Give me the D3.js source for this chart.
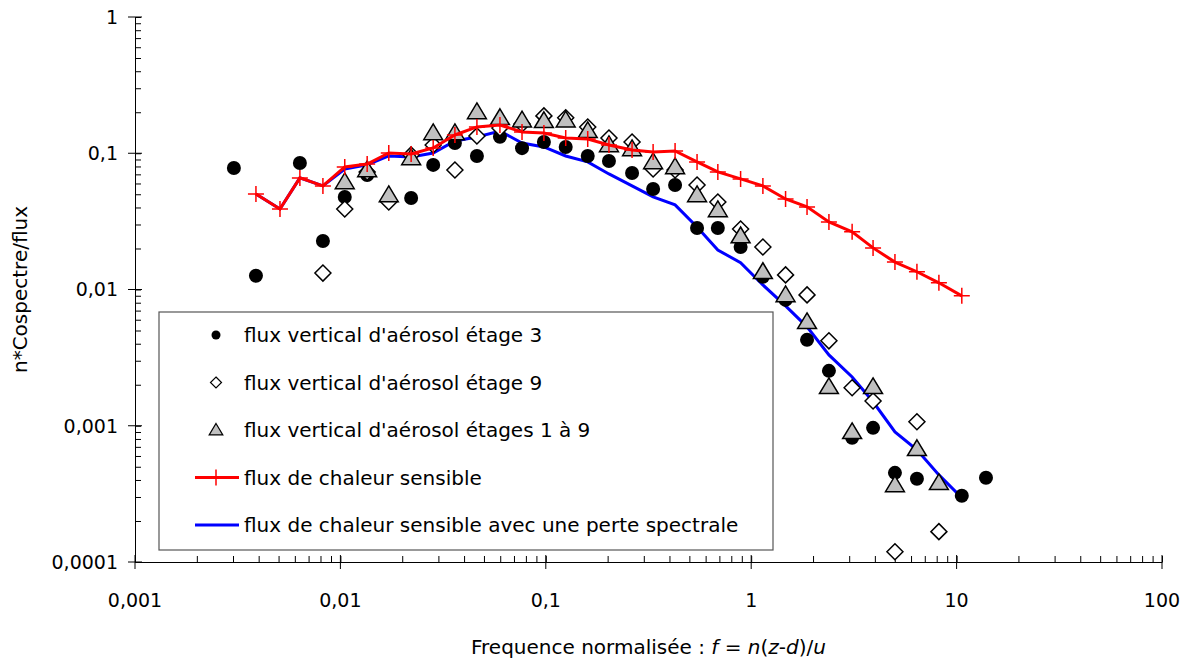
<!DOCTYPE html>
<html>
<head>
<meta charset="utf-8">
<script src="https://cdn.jsdelivr.net/npm/d3@7"></script>
<style>
  body { margin: 0; background: #fff; }
  text { font-family: "DejaVu Sans", sans-serif; fill: #000; }
</style>
</head>
<body>
<div class="chart"></div>
<script>
var svgWidth = 1191;
var svgHeight = 659;

// heat flux curves (red / blue) share the same frequencies
var freqLine = [0.00388, 0.00508, 0.00635, 0.00822, 0.0105, 0.0135, 0.0172, 0.0221, 0.0283, 0.0361,
  0.0462, 0.0598, 0.0766, 0.0979, 0.125, 0.160, 0.203, 0.263, 0.333, 0.426,
  0.545, 0.688, 0.888, 1.14, 1.47, 1.87, 2.39, 3.10, 3.92, 5.01,
  6.41, 8.20, 10.6];
var heatSensible = [0.0503, 0.0390, 0.0659, 0.0576, 0.0793, 0.0834, 0.1005, 0.0988, 0.1094, 0.1362,
  0.156, 0.1613, 0.1433, 0.1409, 0.1295, 0.1273, 0.115, 0.1057, 0.1022, 0.1039,
  0.0864, 0.0729, 0.0648, 0.0576, 0.0462, 0.0404, 0.0313, 0.0265, 0.0202, 0.0159,
  0.0135, 0.0112, 0.00898];
var heatLoss = [0.0503, 0.0390, 0.0659, 0.0576, 0.0767, 0.0821, 0.0955, 0.0939, 0.1005, 0.1231,
  0.1317, 0.1457, 0.1190, 0.1112, 0.0955, 0.0864, 0.0705, 0.0576, 0.0478, 0.0418,
  0.0288, 0.0195, 0.0157, 0.0108, 0.00758, 0.00532, 0.00331, 0.00228, 0.00150, 0.000902,
  0.000666, 0.000436, 0.000296];

// aerosol flux, stage 3 (black dots)
var freqStage3 = [0.00303, 0.00388, 0.00635, 0.00822, 0.0105, 0.0135, 0.0221, 0.0283, 0.0361, 0.0462,
  0.0598, 0.0766, 0.0979, 0.125, 0.160, 0.203, 0.263, 0.333, 0.426, 0.545,
  0.688, 0.888, 1.14, 1.47, 1.87, 2.39, 3.10, 3.92, 5.01, 6.41,
  10.6, 13.9];
var stage3 = [0.0780, 0.0126, 0.0849, 0.0227, 0.0478, 0.0693, 0.0470, 0.0821, 0.119, 0.0955,
  0.132, 0.109, 0.121, 0.111, 0.0955, 0.0878, 0.0717, 0.0547, 0.0585, 0.0283,
  0.0283, 0.0205, 0.0124, 0.00839, 0.00427, 0.00253, 0.000815, 0.000965, 0.000451, 0.000408,
  0.000306, 0.000415];

// aerosol flux, stage 9 (diamonds)
var freqStage9 = [0.00822, 0.0105, 0.0135, 0.0172, 0.0221, 0.0283, 0.0361, 0.0462, 0.0598, 0.0766,
  0.0979, 0.125, 0.160, 0.203, 0.263, 0.333, 0.426, 0.545, 0.688, 0.888,
  1.14, 1.47, 1.87, 2.39, 3.10, 3.92, 5.01, 6.41, 8.20];
var stage9 = [0.0132, 0.0390, 0.0729, 0.0439, 0.0972, 0.115, 0.0754, 0.134, 0.153, 0.164,
  0.188, 0.182, 0.156, 0.1295, 0.121, 0.0767, 0.0754, 0.0585, 0.0439, 0.0278,
  0.0205, 0.0128, 0.00913, 0.00420, 0.00190, 0.00152, 0.000119, 0.00107, 0.000167];

// aerosol flux, stages 1 to 9 (grey triangles)
var freqStages = [0.0105, 0.0135, 0.0172, 0.0221, 0.0283, 0.0361, 0.0462, 0.0598, 0.0766, 0.0979,
  0.125, 0.160, 0.203, 0.263, 0.333, 0.426, 0.545, 0.688, 0.888, 1.14,
  1.47, 1.87, 2.39, 3.10, 3.92, 5.01, 6.41, 8.20];
var stages19 = [0.0616, 0.0754, 0.0494, 0.0924, 0.141, 0.141, 0.201, 0.182, 0.175, 0.173,
  0.175, 0.146, 0.115, 0.1075, 0.0864, 0.0793, 0.0494, 0.0384, 0.0247, 0.0135,
  0.00913, 0.00579, 0.00193, 0.000902, 0.00193, 0.000368, 0.000677, 0.000381];

var xTickValues = [0.001, 0.01, 0.1, 1, 10, 100];
var xTickLabels = ["0,001", "0,01", "0,1", "1", "10", "100"];
var yTickValues = [0.0001, 0.001, 0.01, 0.1, 1];
var yTickLabels = ["0,0001", "0,001", "0,01", "0,1", "1"];

var legendLabels = [
  "flux vertical d'aérosol étage 3",
  "flux vertical d'aérosol étage 9",
  "flux vertical d'aérosol étages 1 à 9",
  "flux de chaleur sensible",
  "flux de chaleur sensible avec une perte spectrale"
];

var svg = d3.select(".chart")
  .append("svg")
  .attr("width", svgWidth)
  .attr("height", svgHeight);

var xScale = d3.scaleLog().domain([0.001, 100]).range([135, 1162]);
var yScale = d3.scaleLog().domain([0.0001, 1]).range([562, 17]);

// axes: minor ticks point into the plot, major ticks cross the line
var plotBottom = yScale(0.0001), plotLeft = xScale(0.001);

svg.append("g")
  .attr("transform", `translate(0, ${plotBottom})`)
  .call(d3.axisBottom(xScale).tickValues(xScale.ticks()).tickSizeInner(-6).tickSizeOuter(0).tickFormat(""))
  .call(g => g.select(".domain").attr("stroke", "#000"))
  .call(g => g.selectAll(".tick line").attr("stroke", "#000"));

svg.append("g")
  .attr("transform", `translate(${plotLeft}, 0)`)
  .call(d3.axisLeft(yScale).tickValues(yScale.ticks()).tickSizeInner(-6).tickSizeOuter(0).tickFormat(""))
  .call(g => g.select(".domain").attr("stroke", "#000"))
  .call(g => g.selectAll(".tick line").attr("stroke", "#000"));

svg.selectAll(".xmajor")
  .data(xTickValues)
  .enter().append("line")
  .attr("x1", d => xScale(d)).attr("x2", d => xScale(d))
  .attr("y1", plotBottom - 7).attr("y2", plotBottom + 7)
  .attr("stroke", "#000");

svg.selectAll(".ymajor")
  .data(yTickValues)
  .enter().append("line")
  .attr("y1", d => yScale(d)).attr("y2", d => yScale(d))
  .attr("x1", plotLeft - 7).attr("x2", plotLeft + 7)
  .attr("stroke", "#000");

svg.selectAll(".xlabel")
  .data(xTickValues)
  .enter().append("text")
  .attr("x", d => xScale(d))
  .attr("y", plotBottom + 45)
  .attr("text-anchor", "middle")
  .style("font-size", "19px")
  .text((d, i) => xTickLabels[i]);

svg.selectAll(".ylabel")
  .data(yTickValues)
  .enter().append("text")
  .attr("x", plotLeft - 17)
  .attr("y", d => yScale(d))
  .attr("dy", "0.36em")
  .attr("text-anchor", "end")
  .style("font-size", "19px")
  .text((d, i) => yTickLabels[i]);

// axis titles
var xTitle = svg.append("text")
  .attr("x", (xScale.range()[0] + xScale.range()[1]) / 2)
  .attr("y", 654)
  .attr("text-anchor", "middle")
  .style("font-size", "20px");
xTitle.append("tspan").text("Frequence normalisée : ");
xTitle.append("tspan").style("font-style", "italic").text("f");
xTitle.append("tspan").text(" = ");
xTitle.append("tspan").style("font-style", "italic").text("n");
xTitle.append("tspan").text("(");
xTitle.append("tspan").style("font-style", "italic").text("z");
xTitle.append("tspan").text("-");
xTitle.append("tspan").style("font-style", "italic").text("d");
xTitle.append("tspan").text(")/");
xTitle.append("tspan").style("font-style", "italic").text("u");

svg.append("text")
  .attr("transform", `translate(27, ${(yScale.range()[0] + yScale.range()[1]) / 2}) rotate(-90)`)
  .attr("text-anchor", "middle")
  .style("font-size", "20px")
  .text("n*Cospectre/flux");

// symbol paths
var circleR = 7;
var diamondPath = s => `M0,${-s}L${s},0L0,${s}L${-s},0Z`;
var trianglePath = s => `M0,${-s}L${s * 1.05},${s * 0.75}L${-s * 1.05},${s * 0.75}Z`;
var crossPath = s => `M${-s},0H${s}M0,${-s}V${s}`;

var lineGen = d3.line()
  .x(d => xScale(d[0]))
  .y(d => yScale(d[1]));

// blue line (with spectral loss)
svg.append("path")
  .datum(d3.zip(freqLine, heatLoss))
  .attr("d", lineGen)
  .attr("fill", "none")
  .attr("stroke", "#0000ff")
  .attr("stroke-width", 3);

// stage 3 dots
svg.selectAll(".dot")
  .data(d3.zip(freqStage3, stage3))
  .enter().append("circle")
  .attr("cx", d => xScale(d[0]))
  .attr("cy", d => yScale(d[1]))
  .attr("r", circleR)
  .attr("fill", "#000");

// stage 9 diamonds
svg.selectAll(".diamond")
  .data(d3.zip(freqStage9, stage9))
  .enter().append("path")
  .attr("transform", d => `translate(${xScale(d[0])}, ${yScale(d[1])})`)
  .attr("d", diamondPath(8))
  .attr("fill", "#fff")
  .attr("stroke", "#000")
  .attr("stroke-width", 1.5);

// stages 1 to 9 triangles
svg.selectAll(".tri")
  .data(d3.zip(freqStages, stages19))
  .enter().append("path")
  .attr("transform", d => `translate(${xScale(d[0])}, ${yScale(d[1])})`)
  .attr("d", trianglePath(9))
  .attr("fill", "#c0c0c0")
  .attr("stroke", "#000")
  .attr("stroke-width", 1.5);

// red line (sensible heat)
svg.append("path")
  .datum(d3.zip(freqLine, heatSensible))
  .attr("d", lineGen)
  .attr("fill", "none")
  .attr("stroke", "#ff0000")
  .attr("stroke-width", 3);

svg.selectAll(".cross")
  .data(d3.zip(freqLine, heatSensible))
  .enter().append("path")
  .attr("transform", d => `translate(${xScale(d[0])}, ${yScale(d[1])})`)
  .attr("d", crossPath(8))
  .attr("stroke", "#ff0000")
  .attr("stroke-width", 1.5);

// legend
var legend = svg.append("g");
legend.append("rect")
  .attr("x", 159).attr("y", 312)
  .attr("width", 614).attr("height", 238)
  .attr("fill", "#fff")
  .attr("stroke", "#555")
  .attr("stroke-width", 1.2);

var rowY = d3.scalePoint().domain(d3.range(legendLabels.length)).range([335, 525]);
var symX = 216;

legend.append("circle").attr("cx", symX).attr("cy", rowY(0)).attr("r", 4.5).attr("fill", "#000");
legend.append("path").attr("transform", `translate(${symX}, ${rowY(1)})`)
  .attr("d", diamondPath(5.5)).attr("fill", "#fff").attr("stroke", "#000").attr("stroke-width", 1.2);
legend.append("path").attr("transform", `translate(${symX}, ${rowY(2)})`)
  .attr("d", trianglePath(6.5)).attr("fill", "#c0c0c0").attr("stroke", "#000").attr("stroke-width", 1.2);
legend.append("line").attr("x1", 195).attr("x2", 239).attr("y1", rowY(3)).attr("y2", rowY(3))
  .attr("stroke", "#ff0000").attr("stroke-width", 3);
legend.append("path").attr("transform", `translate(${symX}, ${rowY(3)})`)
  .attr("d", crossPath(8)).attr("stroke", "#ff0000").attr("stroke-width", 1.5);
legend.append("line").attr("x1", 195).attr("x2", 239).attr("y1", rowY(4)).attr("y2", rowY(4))
  .attr("stroke", "#0000ff").attr("stroke-width", 3);

legend.selectAll(".legtext")
  .data(legendLabels)
  .enter().append("text")
  .attr("x", 244)
  .attr("y", (d, i) => rowY(i))
  .attr("dy", "0.36em")
  .style("font-size", "20px")
  .text(d => d);
</script>
</body>
</html>
